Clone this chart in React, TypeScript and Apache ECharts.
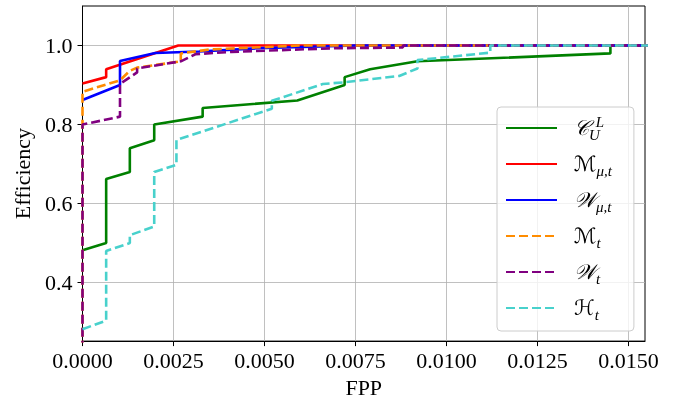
import React, { useEffect, useRef } from 'react';
import * as echarts from 'echarts';

const xTicks = [0, 0.0025, 0.005, 0.0075, 0.01, 0.0125, 0.015];
const yTicks = [0.4, 0.6, 0.8, 1.0];

const seriesNames = ['C_U^L', 'M_mu,t', 'W_mu,t', 'M_t', 'W_t', 'H_t'];
const legendLabels = [
  '{m|𝒞}{sub|U}{sup|L}',
  '{m|ℳ}{sub|μ,t}',
  '{m|𝒲}{sub|μ,t}',
  '{m|ℳ}{sub|t}',
  '{m|𝒲}{sub|t}',
  '{m|ℋ}{sub|t}',
];
const colors = ['#008000', '#ff0000', '#0000ff', '#ff8c00', '#800080', '#48d1cc'];
const dashed = [false, false, false, true, true, true];

const curveCUL: [number, number][] = [
  [0, 0.482], [0.00065, 0.5], [0.00065, 0.662], [0.0013, 0.68], [0.0013, 0.74],
  [0.00197, 0.76], [0.00197, 0.8], [0.0033, 0.82], [0.0033, 0.842], [0.0059, 0.861],
  [0.0072, 0.9], [0.0072, 0.92], [0.0079, 0.94], [0.0092, 0.96], [0.0145, 0.98],
  [0.0145, 1.0], [0.0156, 1.0],
];
const curveMmut: [number, number][] = [
  [0, 0.904], [0.00065, 0.92], [0.00065, 0.94], [0.00263, 1.0], [0.0156, 1.0],
];
const curveWmut: [number, number][] = [
  [0, 0.862], [0.00103, 0.9], [0.00103, 0.961], [0.002, 0.981], [0.0032, 0.985],
  [0.0048, 0.993], [0.0075, 1.0], [0.0156, 1.0],
];
const curveMt: [number, number][] = [
  [0, 0], [0, 0.883], [0.00103, 0.912], [0.0013, 0.936], [0.0015, 0.944],
  [0.0027, 0.96], [0.0027, 0.98], [0.0035, 0.99], [0.006, 1.0], [0.0156, 1.0],
];
const curveWt: [number, number][] = [
  [0, 0], [0, 0.8], [0.00103, 0.82], [0.00103, 0.903], [0.0015, 0.932], [0.0015, 0.942],
  [0.0027, 0.96], [0.0031, 0.978], [0.0041, 0.984], [0.0069, 0.993], [0.0088, 0.995],
  [0.0088, 1.0], [0.0156, 1.0],
];
const curveHt: [number, number][] = [
  [0, 0.282], [0.00065, 0.304], [0.00065, 0.48], [0.0013, 0.5], [0.0013, 0.52],
  [0.00197, 0.542], [0.00197, 0.68], [0.00258, 0.698], [0.00258, 0.761], [0.0052, 0.84],
  [0.0052, 0.86], [0.0066, 0.9025], [0.0072, 0.907], [0.0087, 0.923], [0.0092, 0.942],
  [0.0092, 0.963], [0.0112, 0.982], [0.0112, 1.0], [0.0156, 1.0],
];
const curves = [curveCUL, curveMmut, curveWmut, curveMt, curveWt, curveHt];

const FONT = '"Liberation Serif", "DejaVu Serif", serif';
const MATH = '"DejaVu Serif", "DejaVu Sans", "Liberation Serif", serif';

export default function App() {
  const ref = useRef<HTMLDivElement>(null);
  useEffect(() => {
    if (!ref.current) return;
    const chart = echarts.init(ref.current, null, { renderer: 'svg' });
    const labelMap: Record<string, string> = {};
    seriesNames.forEach((n, i) => (labelMap[n] = legendLabels[i]));
    chart.setOption({
      animation: false,
      textStyle: { fontFamily: FONT, color: '#000' },
      grid: {
        left: 82.5, top: 6, right: 32, bottom: 58,
        show: true, borderColor: '#000', borderWidth: 1,
      },
      legend: {
        orient: 'vertical',
        left: 497,
        top: 107,
        itemWidth: 51,
        itemHeight: 3,
        itemGap: 11.5,
        padding: [7, 22, 9, 8],
        backgroundColor: 'rgba(255,255,255,0.8)',
        borderColor: '#cccccc',
        borderWidth: 1,
        borderRadius: 4,
        itemStyle: { opacity: 0 },
        data: seriesNames,
        formatter: (name: string) => labelMap[name],
        textStyle: {
          color: '#000',
          rich: {
            m: { fontFamily: MATH, fontStyle: 'italic', fontSize: 21, lineHeight: 28, padding: [0, 0, 0, 12], color: '#000' },
            sub: { fontFamily: FONT, fontStyle: 'italic', fontSize: 15, lineHeight: 14, verticalAlign: 'bottom', color: '#000' },
            sup: { fontFamily: FONT, fontStyle: 'italic', fontSize: 15, lineHeight: 14, verticalAlign: 'top', padding: [0, 0, 0, -4], color: '#000' },
          },
        },
      },
      xAxis: {
        type: 'value',
        min: 0,
        max: 0.01545,
        name: 'FPP',
        nameLocation: 'middle',
        nameGap: 31,
        nameTextStyle: { fontSize: 22, color: '#000', fontFamily: FONT },
        axisLine: { show: true, onZero: false, lineStyle: { color: '#000', width: 1 } },
        axisTick: { show: true, length: 5, customValues: xTicks, lineStyle: { color: '#000' } },
        axisLabel: {
          customValues: xTicks,
          formatter: (v: number) => v.toFixed(4),
          fontSize: 22, color: '#000', margin: 8, fontFamily: FONT,
        },
        splitLine: { show: true, lineStyle: { color: '#b0b0b0', width: 0.8 } },
      },
      yAxis: {
        type: 'value',
        min: 0.252,
        max: 1.1,
        name: 'Efficiency',
        nameLocation: 'middle',
        nameGap: 49,
        nameTextStyle: { fontSize: 22, color: '#000', fontFamily: FONT },
        axisLine: { show: true, onZero: false, lineStyle: { color: '#000', width: 1 } },
        axisTick: { show: true, length: 5, customValues: yTicks, lineStyle: { color: '#000' } },
        axisLabel: {
          customValues: yTicks,
          formatter: (v: number) => v.toFixed(1),
          fontSize: 22, color: '#000', margin: 10, fontFamily: FONT,
        },
        splitLine: { show: true, lineStyle: { color: '#b0b0b0', width: 0.8 } },
      },
      series: curves.map((d, i) => ({
        name: seriesNames[i],
        type: 'line',
        data: d,
        symbol: 'none',
        showSymbol: false,
        clip: true,
        z: 2 + i,
        itemStyle: { color: colors[i] },
        lineStyle: { color: colors[i], width: 2.6, type: dashed[i] ? [9, 4] : 'solid' },
      })),
    });
    return () => chart.dispose();
  }, []);
  return <div ref={ref} style={{ position: 'fixed', left: 0, top: 0, width: 677, height: 403 }} />;
}
